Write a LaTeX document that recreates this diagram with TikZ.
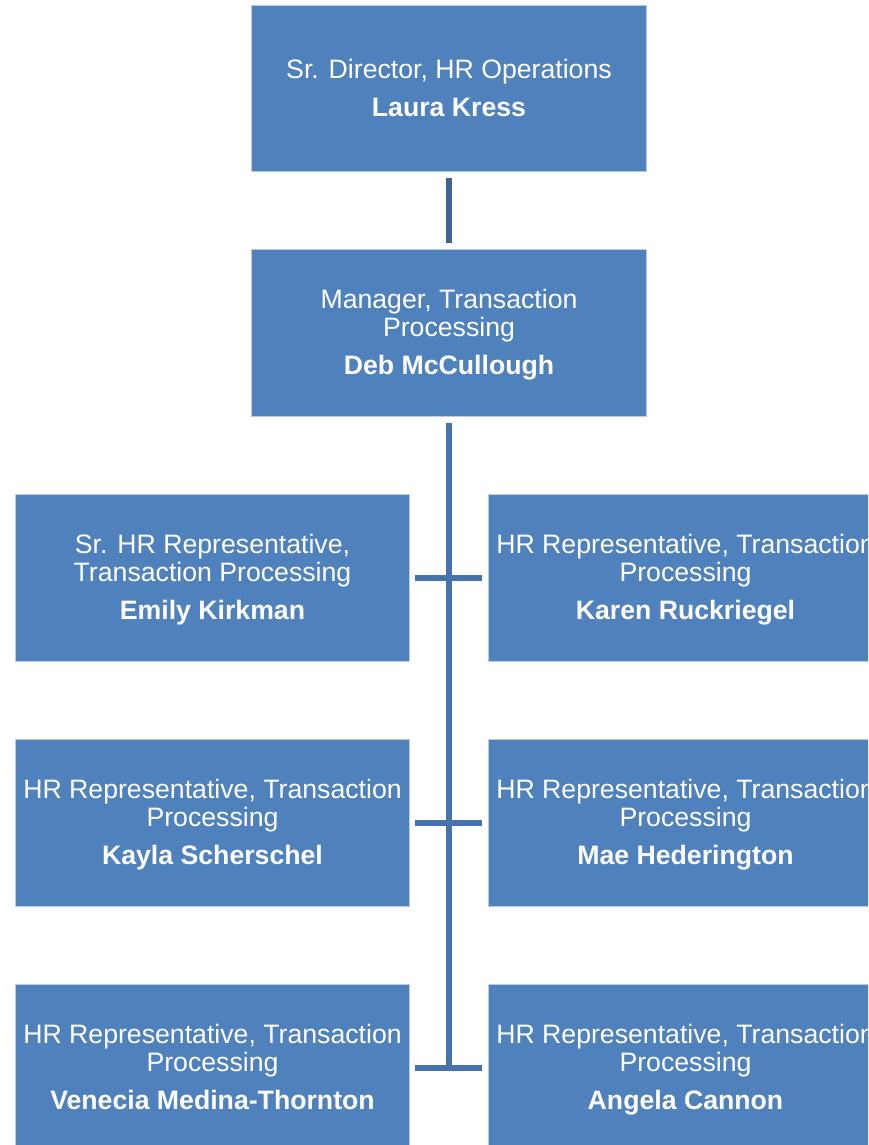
\documentclass[tikz,border=0pt]{standalone}
\usepackage{fontspec}
\setmainfont{Liberation Sans}
\usetikzlibrary{positioning}
\definecolor{boxblue}{HTML}{4F81BD}
\definecolor{edgeblue}{HTML}{B9CDE5}
\definecolor{linkblue}{HTML}{4673AB}
\definecolor{toplink}{HTML}{3F6598}
\tikzset{
    person/.style={draw=edgeblue, line width=0.75pt, fill=boxblue, text=white,
        minimum width=296pt, minimum height=125pt, align=center,
        font=\fontsize{20}{21}\selectfont, inner sep=0pt},
    link/.style={draw=linkblue, line width=4.5pt, line cap=butt}
}
\newcommand{\post}[2]{\rule{0pt}{19.5pt}#1\\[7.5pt]\textbf{#2}\strut}

\begin{document}
\begin{tikzpicture}[x=0.75pt, y=-0.75pt]
                \clip (0,0) rectangle (868,1145);
                \node[person] (dir) at (449,88.5) {\post{Sr. Director, HR Operations}{Laura Kress}};
                \node[person] (mgr) at (449,333) {\post{Manager, Transaction\\Processing}{Deb McCullough}};
                \node[person] (emily) at (212.5,578) {\post{Sr. HR Representative,\\Transaction Processing}{Emily Kirkman}};
                \node[person] (karen) at (685.5,578) {\post{HR Representative, Transaction\\Processing}{Karen Ruckriegel}};
                \node[person] (kayla) at (212.5,823) {\post{HR Representative, Transaction\\Processing}{Kayla Scherschel}};
                \node[person] (mae) at (685.5,823) {\post{HR Representative, Transaction\\Processing}{Mae Hederington}};
                \node[person] (venecia) at (212.5,1068) {\post{HR Representative, Transaction\\Processing}{Venecia Medina-Thornton}};
                \node[person] (angela) at (685.5,1068) {\post{HR Representative, Transaction\\Processing}{Angela Cannon}};
                \coordinate (tail) at (449,1070);
                \draw[link, draw=toplink, shorten <=4pt, shorten >=4.5pt] (dir) -- (mgr);
                \draw[link, shorten <=4.5pt] (mgr) -- (tail);
                \draw[link, shorten <=3.75pt, shorten >=4.5pt] (emily) -- (karen);
                \draw[link, shorten <=3.75pt, shorten >=4.5pt] (kayla) -- (mae);
                \draw[link, shorten <=3.75pt, shorten >=4.5pt] (venecia) -- (angela);
            \end{tikzpicture}
\end{document}
